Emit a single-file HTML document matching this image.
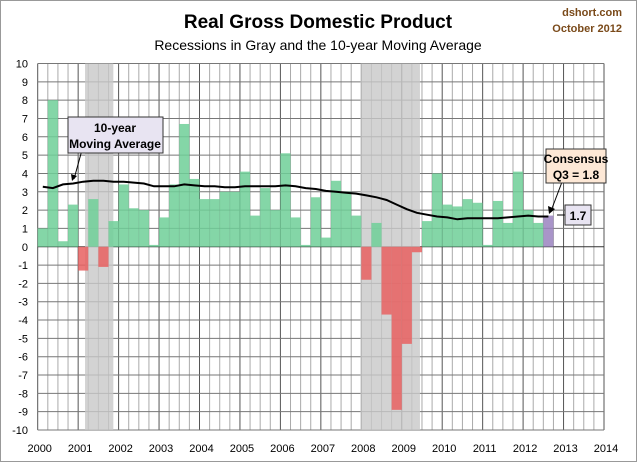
<!DOCTYPE html>
<html><head><meta charset="utf-8"><style>
body{margin:0;background:#fff;font-family:"Liberation Sans",sans-serif}
svg text{font-family:"Liberation Sans",sans-serif}
</style></head><body>
<svg id="c" width="637" height="462">
<rect x="0.5" y="0.5" width="636" height="461" fill="#fff" stroke="#999"/>
<text x="318" y="28" text-anchor="middle" font-size="19" font-weight="bold">Real Gross Domestic Product</text>
<text x="318" y="50" text-anchor="middle" font-size="14">Recessions in Gray and the 10-year Moving Average</text>
<text x="622" y="16" text-anchor="end" font-size="11" font-weight="bold" fill="#7a4a1a">dshort.com</text>
<text x="622" y="32" text-anchor="end" font-size="11" font-weight="bold" fill="#7a4a1a">October  2012</text>
<g id="grid"></g><g id="shade"></g><g id="bars"></g><g id="line"></g><g id="axes"></g>
<g>
<line x1="82" y1="150" x2="74" y2="179" stroke="#000" stroke-width="1"/>
<polygon points="72,181 71,174 77,176" fill="#000"/>
<rect x="68" y="117" width="95" height="36" fill="#e8e4f2" stroke="#333"/>
<text x="115" y="132" text-anchor="middle" font-size="12" font-weight="bold">10-year</text>
<text x="115" y="148" text-anchor="middle" font-size="12" font-weight="bold">Moving Average</text>
</g>
<g>
<line x1="562" y1="182" x2="551" y2="211" stroke="#000"/>
<polygon points="549,214 548,206 555,209" fill="#000"/>
<rect x="546" y="149" width="60" height="34" fill="#fde8d6" stroke="#333"/>
<text x="576" y="163" text-anchor="middle" font-size="12" font-weight="bold">Consensus</text>
<text x="576" y="179" text-anchor="middle" font-size="12" font-weight="bold">Q3 = 1.8</text>
</g>
<g>
<line x1="557" y1="215" x2="565" y2="215" stroke="#000"/>
<rect x="565" y="205" width="26" height="20" fill="#e8e4f2" stroke="#333"/>
<text x="578" y="220" text-anchor="middle" font-size="12" font-weight="bold">1.7</text>
</g>
</svg>
<script>
const quarters=["2000Q1","2000Q2","2000Q3","2000Q4","2001Q1","2001Q2","2001Q3","2001Q4","2002Q1","2002Q2","2002Q3","2002Q4","2003Q1","2003Q2","2003Q3","2003Q4","2004Q1","2004Q2","2004Q3","2004Q4","2005Q1","2005Q2","2005Q3","2005Q4","2006Q1","2006Q2","2006Q3","2006Q4","2007Q1","2007Q2","2007Q3","2007Q4","2008Q1","2008Q2","2008Q3","2008Q4","2009Q1","2009Q2","2009Q3","2009Q4","2010Q1","2010Q2","2010Q3","2010Q4","2011Q1","2011Q2","2011Q3","2011Q4","2012Q1","2012Q2","2012Q3"];
const gdp=[1.0,8.0,0.3,2.3,-1.3,2.6,-1.1,1.4,3.4,2.1,2.0,0.1,1.6,3.4,6.7,3.7,2.6,2.6,3.0,3.0,4.1,1.7,3.2,2.0,5.1,1.6,0.1,2.7,0.5,3.6,3.0,1.7,-1.8,1.3,-3.7,-8.9,-5.3,-0.3,1.4,4.0,2.3,2.2,2.6,2.4,0.1,2.5,1.3,4.1,2.0,1.3,1.7];
const movingAvg=[3.27,3.2,3.4,3.45,3.55,3.6,3.6,3.55,3.55,3.5,3.45,3.3,3.3,3.3,3.4,3.35,3.3,3.3,3.25,3.25,3.3,3.3,3.3,3.3,3.35,3.3,3.2,3.15,3.05,3.0,2.95,2.9,2.8,2.7,2.55,2.3,2.05,1.85,1.75,1.65,1.6,1.5,1.55,1.55,1.55,1.55,1.6,1.65,1.7,1.65,1.65];
const recessions=[[2001.17,2001.87],[2007.98,2009.45]];
const yTicks=[10,9,8,7,6,5,4,3,2,1,0,-1,-2,-3,-4,-5,-6,-7,-8,-9,-10];
const xTicks=[2000,2001,2002,2003,2004,2005,2006,2007,2008,2009,2010,2011,2012,2013,2014];
const NS="http://www.w3.org/2000/svg";
const X0=37.7,X1=604,Y10=63.5,Ym10=430;
const x=t=>X0+(t-2000)*(X1-X0)/14;
const y=v=>Y10+(10-v)*(Ym10-Y10)/20;
function mk(tag,attrs,parent){const e=document.createElementNS(NS,tag);for(const k in attrs)e.setAttribute(k,attrs[k]);document.getElementById(parent).appendChild(e);return e;}
// grid
for(let q=0;q<=56;q++){const l=mk('line',{x1:x(2000+q/4),x2:x(2000+q/4),y1:y(10),y2:y(-10),stroke:q%4?'#aaa':'#555','stroke-width':1},'grid');

}
yTicks.forEach(v=>{const l=mk('line',{x1:X0,x2:X1,y1:y(v),y2:y(v),stroke:v===0?'#333':'#777','stroke-width':1},'grid');


const t=mk('text',{x:28,y:y(v)+4,'text-anchor':'end','font-size':11},'axes');t.textContent=v;

});
xTicks.forEach(v=>{const t=mk('text',{x:x(v)+2,y:452,'text-anchor':'middle','font-size':11},'axes');t.textContent=v;

});
recessions.forEach(r=>{const e=mk('rect',{x:x(r[0]),y:y(10),width:x(r[1])-x(r[0]),height:y(-10)-y(10),fill:'#c8c8c8','fill-opacity':0.8},'shade');

});
const bw=(X1-X0)/56;
gdp.forEach((v,i)=>{const last=i===gdp.length-1;const c=last?'#9a82c0':(v<0?'#e86060':'#6fcf98');
const b=mk('rect',{x:x(2000+i/4),y:Math.min(y(v),y(0)),width:bw,height:Math.abs(y(v)-y(0)),fill:c,'fill-opacity':0.85},'bars');

});
const pts=movingAvg.map((v,i)=>x(2000+i/4+0.125).toFixed(1)+','+y(v).toFixed(1)).join(' ');
const p=mk('polyline',{points:pts,fill:'none',stroke:'#000','stroke-width':2},'line');


</script>
</body></html>
